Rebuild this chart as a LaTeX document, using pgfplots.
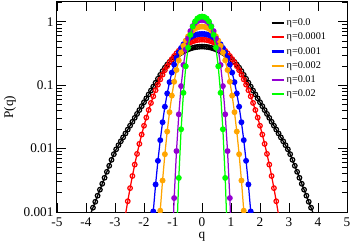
\documentclass[border=0pt]{standalone}
\usepackage{pgfplots}
\pgfplotsset{compat=1.18}
\usepackage{fontspec}
\setmainfont{Liberation Serif}
\definecolor{gorange}{RGB}{255,165,0}
\definecolor{gviolet}{RGB}{148,0,211}
\definecolor{ggreen}{RGB}{0,255,0}
\begin{document}
\begin{tikzpicture}
\path[use as bounding box] (-57bp,-33bp) rectangle (295bp,212bp);
\begin{axis}[
  scale only axis, width=290bp, height=210bp,
  xmin=-5, xmax=5, ymin=0.001, ymax=2.06,
  ymode=log,
  axis line style={line width=1bp},
  every tick/.style={black, line width=0.9bp},
  major tick length=9bp, minor tick length=5.5bp,
  tick align=inside, tick pos=both,
  xticklabel pos=lower, yticklabel pos=left,
  xtick={-5,-4,-3,-2,-1,0,1,2,3,4,5},
  xticklabels={-5,-4,-3,-2,-1,0,1,2,3,4,5},
  ytick={0.001,0.01,0.1,1},
  yticklabels={0.001,0.01,0.1,1},
  minor ytick={0.002,0.003,0.004,0.005,0.006,0.007,0.008,0.009,0.02,0.03,0.04,0.05,0.06,0.07,0.08,0.09,0.2,0.3,0.4,0.5,0.6,0.7,0.8,0.9,2},
  tick label style={font=\fontsize{13.3}{15}\selectfont},
  xticklabel style={yshift=-2bp},
  label style={font=\fontsize{13.3}{15}\selectfont},
  xlabel={q}, ylabel={P(q)},
  xlabel style={at={(axis description cs:0.5,-0.119)}, anchor=center},
  ylabel style={at={(axis description cs:-0.162,0.5)}, anchor=center},
  clip marker paths=true,
  legend style={draw=none, fill=none, font=\fontsize{10.3}{12}\selectfont,
    at={(axis description cs:0.735,0.93)}, anchor=north west, inner sep=0pt, row sep=1.9bp},
  legend cell align=left,
  legend image code/.code={\draw[#1, mark=none, line width=2.3bp] (0bp,0bp) -- (12bp,0bp);},
  every axis plot/.append style={line width=1.25bp, mark size=2.3bp},
]
\addplot[black, mark=o, mark options={line width=1.2bp}] coordinates {
(-3.92,0.00076)(-3.84,0.00094)(-3.76,0.00117)(-3.68,0.00145)(-3.60,0.00181)(-3.52,0.00225)(-3.44,0.00279)(-3.36,0.00347)(-3.28,0.00431)(-3.20,0.00536)(-3.12,0.00666)(-3.04,0.00818)(-2.96,0.00976)(-2.88,0.01133)(-2.80,0.01306)(-2.72,0.01505)(-2.64,0.01735)(-2.56,0.0200)(-2.48,0.0230)(-2.40,0.0265)(-2.32,0.0306)(-2.24,0.0353)(-2.16,0.0406)(-2.08,0.0468)(-2.00,0.0540)(-1.92,0.0622)(-1.84,0.0717)(-1.76,0.0826)(-1.68,0.0952)(-1.60,0.1097)(-1.52,0.1264)(-1.44,0.1456)(-1.36,0.1673)(-1.28,0.1894)(-1.20,0.2116)(-1.12,0.2332)(-1.04,0.2535)(-0.96,0.2723)(-0.88,0.2904)(-0.80,0.3080)(-0.72,0.3247)(-0.64,0.3406)(-0.56,0.3552)(-0.48,0.3683)(-0.40,0.3799)(-0.32,0.3895)(-0.24,0.3973)(-0.16,0.4028)(-0.08,0.4063)
(0,0.4074)
(0.08,0.4063)(0.16,0.4028)(0.24,0.3973)(0.32,0.3895)(0.40,0.3799)(0.48,0.3683)(0.56,0.3552)(0.64,0.3406)(0.72,0.3247)(0.80,0.3080)(0.88,0.2904)(0.96,0.2723)(1.04,0.2535)(1.12,0.2332)(1.20,0.2116)(1.28,0.1894)(1.36,0.1673)(1.44,0.1456)(1.52,0.1264)(1.60,0.1097)(1.68,0.0952)(1.76,0.0826)(1.84,0.0717)(1.92,0.0622)(2.00,0.0540)(2.08,0.0468)(2.16,0.0406)(2.24,0.0353)(2.32,0.0306)(2.40,0.0265)(2.48,0.0230)(2.56,0.0200)(2.64,0.01735)(2.72,0.01505)(2.80,0.01306)(2.88,0.01133)(2.96,0.00976)(3.04,0.00818)(3.12,0.00666)(3.20,0.00536)(3.28,0.00431)(3.36,0.00347)(3.44,0.00279)(3.52,0.00225)(3.60,0.00181)(3.68,0.00145)(3.76,0.00117)(3.84,0.00094)(3.92,0.00076)
};
\addlegendentry{η=0.0}
\addplot[red, mark=o, mark options={line width=1.2bp}] coordinates {
(-2.72,0.00053)(-2.64,0.00090)(-2.56,0.00148)(-2.48,0.00238)(-2.40,0.00370)(-2.32,0.00560)(-2.24,0.00826)(-2.16,0.01189)(-2.08,0.01670)(-2.00,0.02296)(-1.92,0.0309)(-1.84,0.0407)(-1.76,0.0526)(-1.68,0.0668)(-1.60,0.0834)(-1.52,0.1023)(-1.44,0.1237)(-1.36,0.1472)(-1.28,0.1729)(-1.20,0.2002)(-1.12,0.2291)(-1.04,0.2589)(-0.96,0.2892)(-0.88,0.3198)(-0.80,0.3499)(-0.72,0.3789)(-0.64,0.4064)(-0.56,0.4322)(-0.48,0.4554)(-0.40,0.4758)(-0.32,0.4931)(-0.24,0.5068)(-0.16,0.5168)(-0.08,0.5228)
(0,0.5248)
(0.08,0.5228)(0.16,0.5168)(0.24,0.5068)(0.32,0.4931)(0.40,0.4758)(0.48,0.4554)(0.56,0.4322)(0.64,0.4064)(0.72,0.3789)(0.80,0.3499)(0.88,0.3198)(0.96,0.2892)(1.04,0.2589)(1.12,0.2291)(1.20,0.2002)(1.28,0.1729)(1.36,0.1472)(1.44,0.1237)(1.52,0.1023)(1.60,0.0834)(1.68,0.0668)(1.76,0.0526)(1.84,0.0407)(1.92,0.0309)(2.00,0.02296)(2.08,0.01670)(2.16,0.01189)(2.24,0.00826)(2.32,0.00560)(2.40,0.00370)(2.48,0.00238)(2.56,0.00148)(2.64,0.00090)(2.72,0.00053)
};
\addlegendentry{η=0.0001}
\addplot[blue, mark=*] coordinates {
(-1.76,0.00034)(-1.68,0.00102)(-1.60,0.00272)(-1.52,0.00643)(-1.44,0.01362)(-1.36,0.0261)(-1.28,0.0459)(-1.20,0.0743)(-1.12,0.1120)(-1.04,0.1585)(-0.96,0.2121)(-0.88,0.2702)(-0.80,0.3300)(-0.72,0.3885)(-0.64,0.4432)(-0.56,0.4923)(-0.48,0.5350)(-0.40,0.5702)(-0.32,0.5983)(-0.24,0.6194)(-0.16,0.6342)(-0.08,0.6429)
(0,0.6457)
(0.08,0.6429)(0.16,0.6342)(0.24,0.6194)(0.32,0.5983)(0.40,0.5702)(0.48,0.5350)(0.56,0.4923)(0.64,0.4432)(0.72,0.3885)(0.80,0.3300)(0.88,0.2702)(0.96,0.2121)(1.04,0.1585)(1.12,0.1120)(1.20,0.0743)(1.28,0.0459)(1.36,0.0261)(1.44,0.01362)(1.52,0.00643)(1.60,0.00272)(1.68,0.00102)(1.76,0.00034)
};
\addlegendentry{η=0.001}
\addplot[gorange, mark=*] coordinates {
(-1.52,0.00029)(-1.44,0.00105)(-1.36,0.00314)(-1.28,0.00816)(-1.20,0.0186)(-1.12,0.0376)(-1.04,0.0686)(-0.96,0.1136)(-0.88,0.174)(-0.80,0.247)(-0.72,0.330)(-0.64,0.419)(-0.56,0.507)(-0.48,0.591)(-0.40,0.666)(-0.32,0.729)(-0.24,0.779)(-0.16,0.815)(-0.08,0.836)
(0,0.843)
(0.08,0.836)(0.16,0.815)(0.24,0.779)(0.32,0.729)(0.40,0.666)(0.48,0.591)(0.56,0.507)(0.64,0.419)(0.72,0.330)(0.80,0.247)(0.88,0.174)(0.96,0.1136)(1.04,0.0686)(1.12,0.0376)(1.20,0.0186)(1.28,0.00816)(1.36,0.00314)(1.44,0.00105)(1.52,0.00029)
};
\addlegendentry{η=0.002}
\addplot[gviolet, mark=*] coordinates {
(-1.04,0.00019)(-0.96,0.00166)(-0.88,0.00916)(-0.80,0.0348)(-0.72,0.0970)(-0.64,0.209)(-0.56,0.367)(-0.48,0.546)(-0.40,0.717)(-0.32,0.858)(-0.24,0.960)(-0.16,1.025)(-0.08,1.061)
(0,1.072)
(0.08,1.061)(0.16,1.025)(0.24,0.960)(0.32,0.858)(0.40,0.717)(0.48,0.546)(0.56,0.367)(0.64,0.209)(0.72,0.0970)(0.80,0.0348)(0.88,0.00916)(0.96,0.00166)(1.04,0.00019)
};
\addlegendentry{η=0.01}
\addplot[ggreen, mark=*] coordinates {
(-0.88,0.00034)(-0.80,0.00345)(-0.72,0.0202)(-0.64,0.0759)(-0.56,0.199)(-0.48,0.392)(-0.40,0.623)(-0.32,0.843)(-0.24,1.016)(-0.16,1.132)(-0.08,1.196)
(0,1.216)
(0.08,1.196)(0.16,1.132)(0.24,1.016)(0.32,0.843)(0.40,0.623)(0.48,0.392)(0.56,0.199)(0.64,0.0759)(0.72,0.0202)(0.80,0.00345)(0.88,0.00034)
};
\addlegendentry{η=0.02}
\end{axis}
\end{tikzpicture}
\end{document}
